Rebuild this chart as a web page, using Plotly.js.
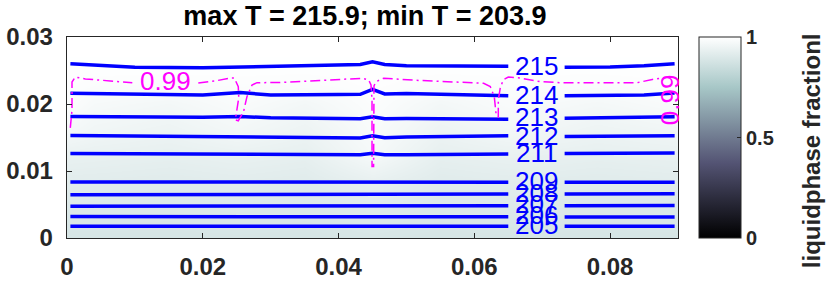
<!DOCTYPE html>
<html><head><meta charset="utf-8">
<script src="https://cdn.plot.ly/plotly-3.0.1.min.js"></script>
<style>html,body{margin:0;padding:0;background:#fff;}</style>
</head><body><div id="chart" style="width:831px;height:288px;"></div>
<script>
// ---- temperature contour lines ----
const levels = [215, 214, 213, 212, 211, 209, 208, 207, 206, 205];
const lineX = [0.0005, 0.01, 0.02, 0.0255, 0.03, 0.04, 0.0432, 0.045, 0.0468, 0.05, 0.06, 0.065, 0.0733, 0.08, 0.085, 0.0895];
const T215 = [0.0260, 0.0255, 0.0254, 0.0255, 0.0256, 0.0258, 0.0259, 0.0263, 0.0259, 0.0257, 0.0257, 0.02563, 0.0255, 0.02552, 0.0257, 0.0260];
const T214 = [0.02161, 0.02143, 0.02135, 0.0217, 0.02135, 0.02143, 0.02145, 0.0222, 0.0215, 0.02158, 0.02143, 0.02125, 0.02125, 0.02128, 0.02135, 0.02165];
const T213 = [0.01815, 0.01804, 0.01804, 0.01815, 0.01793, 0.01783, 0.01779, 0.01808, 0.01781, 0.01783, 0.01778, 0.01774, 0.01789, 0.01793, 0.01801, 0.01808];
const T212 = [0.0153, 0.01524, 0.01518, 0.01515, 0.01508, 0.01496, 0.01493, 0.01527, 0.01496, 0.01506, 0.01515, 0.01525, 0.01515, 0.0152, 0.01522, 0.01525];
const T211 = [0.01262, 0.01256, 0.0125, 0.01248, 0.01246, 0.01243, 0.01243, 0.01265, 0.01243, 0.01243, 0.01248, 0.01253, 0.01262, 0.01265, 0.01266, 0.01268];
const T209 = [0.00836, 0.00834, 0.00833, 0.00833, 0.00833, 0.00832, 0.00832, 0.00836, 0.00832, 0.00832, 0.00833, 0.00833, 0.00833, 0.00832, 0.00832, 0.00833];
const T208 = [0.00645, 0.00647, 0.00649, 0.0065, 0.0065, 0.00652, 0.00652, 0.00655, 0.00652, 0.00653, 0.00655, 0.00656, 0.00658, 0.00659, 0.0066, 0.0066];
const T207 = [0.00473, 0.00474, 0.00475, 0.00476, 0.00476, 0.00477, 0.00477, 0.0048, 0.00477, 0.00478, 0.0048, 0.00481, 0.00482, 0.00483, 0.00484, 0.00484];
const T206 = [0.0032, 0.0032, 0.00319, 0.00319, 0.00318, 0.00318, 0.00318, 0.0032, 0.00318, 0.00317, 0.00316, 0.00316, 0.00315, 0.00315, 0.00315, 0.00315];
const T205 = [0.00176, 0.00176, 0.00176, 0.00176, 0.00176, 0.00176, 0.00176, 0.00178, 0.00176, 0.00176, 0.00176, 0.00176, 0.00176, 0.00176, 0.00176, 0.00176];
const levelY = [T215, T214, T213, T212, T211, T209, T208, T207, T206, T205];
const gapAfter = 0.065;             // label gap in contour lines
const labelX = 0.0692;
const labelY = [0.02524, 0.02098, 0.01763, 0.01481, 0.01235, 0.00811, 0.0064, 0.00476, 0.00313, 0.00156];

// ---- liquid fraction = 0.99 contour ----
const fracLineX = [0.000486, 0.000737, 0.000737, 0.000737, 0.001223, 0.002696, 0.006378, 0.009619, null,
  0.01934, 0.02184, 0.02405, 0.02464, 0.02523, 0.0253, 0.02479, 0.02523, 0.02601, 0.02651, 0.02725, 0.02799,
  0.03142, 0.03731, 0.0435, 0.04443, 0.04478, 0.04493, 0.04493, 0.04516, 0.04516, 0.04522, 0.04549, 0.04664,
  0.05204, 0.06137, 0.06235, 0.06294, 0.06323, 0.06353, 0.06353, 0.06382, 0.06426, 0.065, 0.06677, 0.06971,
  0.07266, 0.07855, 0.084, 0.08621, 0.08857];
const fracLineY = [0.01644, 0.01912, 0.0221, 0.02329, 0.02403, 0.02374, 0.02344, 0.02318, null,
  0.02314, 0.02344, 0.02388, 0.02388, 0.02259, 0.02091, 0.01763, 0.01749, 0.01887, 0.0211, 0.02284, 0.02318,
  0.02321, 0.02351, 0.02384, 0.02359, 0.02284, 0.02061, 0.01068, 0.01068, 0.02061, 0.02269, 0.02333, 0.02384,
  0.02351, 0.0231, 0.02259, 0.0211, 0.01823, 0.01808, 0.02061, 0.0224, 0.02359, 0.02403, 0.02388, 0.02333,
  0.02318, 0.02318, 0.02318, 0.02366, 0.02403];
const fracLabelX = [0.01448, 0.08886];
const fracLabelY = [0.02299, 0.02061];

// ---- liquid phase fraction field (estimated from shading) ----
const fracX = [0, 0.004, 0.015, 0.025, 0.035, 0.045, 0.055, 0.065, 0.078, 0.09];
const fracY = [0, 0.004, 0.008, 0.012, 0.016, 0.02, 0.023, 0.026, 0.03];
const fracZ = [
  [0.882, 0.882, 0.881, 0.884, 0.881, 0.888, 0.881, 0.884, 0.881, 0.883],
  [0.898, 0.898, 0.896, 0.9, 0.896, 0.905, 0.896, 0.9, 0.896, 0.898],
  [0.915, 0.914, 0.91, 0.915, 0.91, 0.93, 0.91, 0.915, 0.91, 0.914],
  [0.935, 0.933, 0.928, 0.935, 0.928, 0.97, 0.928, 0.935, 0.928, 0.933],
  [0.97, 0.958, 0.948, 0.965, 0.948, 0.982, 0.948, 0.965, 0.948, 0.958],
  [0.99, 0.975, 0.966, 0.982, 0.966, 0.99, 0.966, 0.982, 0.968, 0.982],
  [0.995, 0.99, 0.988, 0.99, 0.988, 0.995, 0.988, 0.99, 0.988, 0.993],
  [0.998, 0.998, 0.998, 0.998, 0.998, 0.998, 0.998, 0.998, 0.998, 0.998],
  [1, 1, 1, 1, 1, 1, 1, 1, 1, 1]
];
const cbTicks = [0, 0.5, 1];
const cbTitle = 'liquidphase fractionl';
const boneScale = [[0, 'rgb(0,0,0)'], [0.375, 'rgb(84,84,116)'], [0.75, 'rgb(167,199,199)'], [1, 'rgb(255,255,255)']];

const FONT = 'Liberation Sans, Arial, Helvetica, sans-serif';
const AX = '#262626';

const traces = [];
traces.push({
  type: 'heatmap', x: fracX, y: fracY, z: fracZ, zmin: 0, zmax: 1, zsmooth: 'best',
  colorscale: boneScale, hoverinfo: 'skip',
  colorbar: {
    x: 1.0344, xanchor: 'left', xref: 'paper', xpad: 0, thickness: 42, thicknessmode: 'pixels',
    len: 1, lenmode: 'fraction', y: 0.5, yanchor: 'middle', ypad: 0,
    outlinewidth: 1, outlinecolor: AX, tickvals: cbTicks, ticks: 'inside', ticklen: 4, tickcolor: AX,
    tickfont: {family: FONT, size: 20, color: AX, weight: 'bold'}
  }
});
levels.forEach((lv, i) => {
  const xs = [], ys = [];
  lineX.forEach((x, j) => {
    xs.push(x); ys.push(levelY[i][j]);
    if (x === gapAfter) { xs.push(null); ys.push(null); }
  });
  traces.push({type: 'scatter', mode: 'lines', x: xs, y: ys, line: {color: '#0000ff', width: 3.5},
    hoverinfo: 'skip', showlegend: false});
});
traces.push({type: 'scatter', mode: 'lines', x: fracLineX, y: fracLineY, connectgaps: false,
  line: {color: '#ff00ff', width: 1.5, dash: '10px,4px,2px,4px'}, hoverinfo: 'skip', showlegend: false});
traces.push({type: 'scatter', mode: 'text', x: levels.map(() => labelX), y: labelY,
  text: levels.map(String), textposition: 'middle center', cliponaxis: false,
  textfont: {family: FONT, size: 26, color: '#0000ff'}, hoverinfo: 'skip', showlegend: false});
traces.push({type: 'scatter', mode: 'text', x: [fracLabelX[0]], y: [fracLabelY[0]], text: ['0.99'],
  textposition: 'middle center', textfont: {family: FONT, size: 26, color: '#ff00ff'}, hoverinfo: 'skip', showlegend: false});

const layout = {
  width: 831, height: 288,
  margin: {l: 67, r: 153, t: 37, b: 50, pad: 0},
  paper_bgcolor: '#fff', plot_bgcolor: '#fff', showlegend: false,
  title: {text: 'max T = 215.9; min T = 203.9', x: 0.4392, xref: 'container', xanchor: 'center',
    y: 0.945, yref: 'container', yanchor: 'middle',
    font: {family: FONT, size: 27, color: '#000', weight: 'bold'}},
  xaxis: {range: [0, 0.09], tick0: 0, dtick: 0.02, ticks: 'inside', ticklen: 5, tickcolor: AX, tickwidth: 1,
    showline: true, linecolor: AX, linewidth: 1.3, mirror: 'ticks', showgrid: false, zeroline: false,
    tickfont: {family: FONT, size: 24, color: AX, weight: 'bold'}, ticklabelstandoff: 7},
  yaxis: {range: [0, 0.03], tick0: 0, dtick: 0.01, ticks: 'inside', ticklen: 5, tickcolor: AX, tickwidth: 1,
    showline: true, linecolor: AX, linewidth: 1.3, mirror: 'ticks', showgrid: false, zeroline: false,
    tickfont: {family: FONT, size: 24, color: AX, weight: 'bold'}, ticklabelstandoff: 8},
  annotations: [
    {x: fracLabelX[1], y: fracLabelY[1], xref: 'x', yref: 'y', text: '0.99', showarrow: false,
      textangle: -90, font: {family: FONT, size: 26, color: '#ff00ff'}},
    {x: 1.2177, y: 0.432, xref: 'paper', yref: 'paper', text: cbTitle, showarrow: false,
      textangle: -90, xanchor: 'center', yanchor: 'middle',
      font: {family: FONT, size: 24, color: AX, weight: 'bold'}}
  ]
};
Plotly.newPlot('chart', traces, layout, {displayModeBar: false, staticPlot: true});
</script></body></html>
